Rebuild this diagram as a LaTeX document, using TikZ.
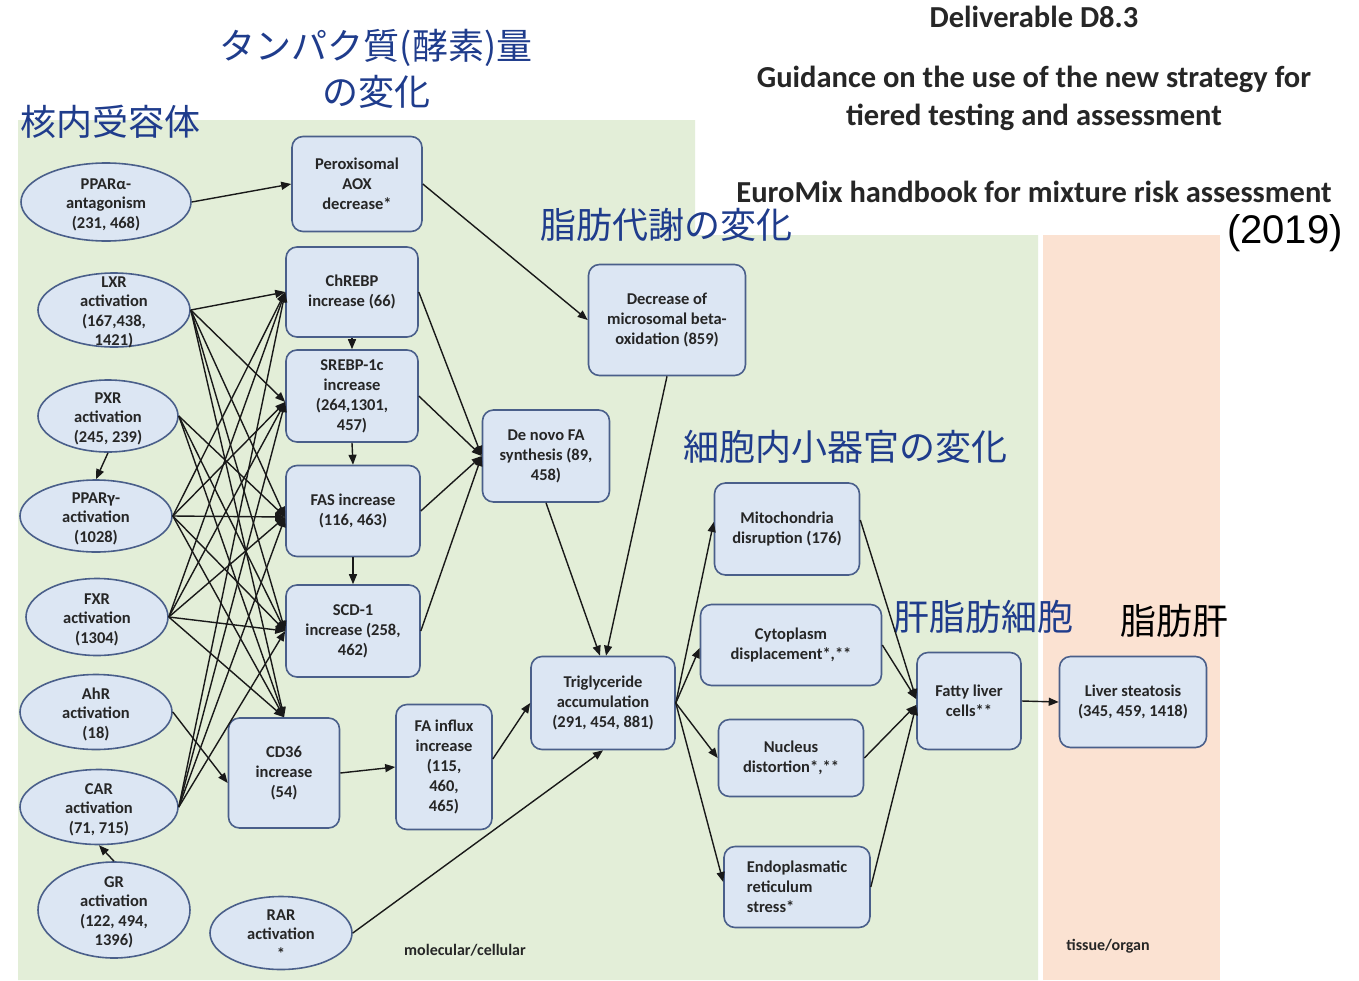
\documentclass[tikz,border=0pt]{standalone}
\usepackage{fontspec}
\setmainfont{Carlito}
\newfontfamily\jpfont{Noto Sans CJK JP}
\newfontfamily\arialfont{Liberation Sans}
\usetikzlibrary{shapes.geometric,arrows.meta}
\definecolor{bggreen}{HTML}{E3EED8}
\definecolor{bgorange}{HTML}{FBE2D2}
\definecolor{boxfill}{HTML}{DCE6F3}
\definecolor{boxline}{HTML}{4A5F8A}
\definecolor{jpblue}{HTML}{1F3C8C}
\newcommand{\ellt}[1]{\smash{\raisebox{-7pt}{\begin{tabular}{@{}c@{}}#1\end{tabular}}}}
\begin{document}
\begin{tikzpicture}[x=1pt,y=-1pt,
  box/.style={draw=boxline, fill=boxfill, line width=1.6pt, rounded corners=11pt, align=center, inner sep=3pt, font=\bfseries\fontsize{16.5}{20}\selectfont, text=black!85},
  ell/.style={ellipse, draw=boxline, fill=boxfill, line width=1.6pt, inner sep=0pt, font=\bfseries\fontsize{16.5}{19.5}\selectfont, text=black!85},
  arr/.style={-{Triangle[length=10pt,width=8pt]}, line width=1.4pt, draw=black!90},
  jp/.style={font=\jpfont\fontsize{36}{46}\selectfont, text=jpblue, inner sep=0pt},
  ttl/.style={font=\bfseries\fontsize{30.5}{38}\selectfont, text=black!85, align=center, inner sep=0pt},
  lay/.style={font=\bfseries\fontsize{16}{16}\selectfont, text=black!85}]
\useasboundingbox (0,0) rectangle (1359,980);
\fill[white] (0,0) rectangle (1359,980);
% backgrounds
\fill[bggreen] (18,120) -- (695,120) -- (695,235) -- (1038,235) -- (1038,980) -- (18,980) -- cycle;
\fill[bgorange] (1043,235) rectangle (1220,980);

% Japanese labels
\node[jp, anchor=west] (jp1) at (20,122) {核内受容体};
\node[jp, align=center] (jp2) at (376,69) {タンパク質(酵素)量\\の変化};
\node[jp, anchor=west] (jp3) at (540,225) {脂肪代謝の変化};
\node[jp, anchor=west] (jp4) at (683,447) {細胞内小器官の変化};
\node[jp, anchor=west] (jp5) at (893,617) {肝脂肪細胞};
\node[jp, anchor=west, text=black] (jp6) at (1120,621) {脂肪肝};

% title
\node[ttl] (t1) at (1034,17) {Deliverable D8.3};
\node[ttl] (t2) at (1034,98) {Guidance on the use of the new strategy for\\tiered testing and assessment};
\node[ttl] (t3) at (1034,192) {EuroMix handbook for mixture risk assessment};
\node[font=\arialfont\fontsize{40}{40}\selectfont, anchor=east, inner sep=0pt] (t4) at (1343,233) {(2019)};

% ellipses
\node[ell, minimum width=170, minimum height=78] (ppara) at (106,202) {\ellt{PPARα-\\antagonism\\(231, 468)}};
\node[ell, minimum width=152, minimum height=74] (lxr) at (114,310) {\ellt{LXR\\activation\\(167,438,\\1421)}};
\node[ell, minimum width=140, minimum height=72] (pxr) at (108,416) {\ellt{PXR\\activation\\(245, 239)}};
\node[ell, minimum width=152, minimum height=72] (pparg) at (96,516) {\ellt{PPARγ-\\activation\\(1028)}};
\node[ell, minimum width=142, minimum height=77] (fxr) at (97,617) {\ellt{FXR\\activation\\(1304)}};
\node[ell, minimum width=152, minimum height=75] (ahr) at (96,712) {\ellt{AhR\\activation\\(18)}};
\node[ell, minimum width=158, minimum height=75] (car) at (99,807) {\ellt{CAR\\activation\\(71, 715)}};
\node[ell, minimum width=152, minimum height=96] (gr) at (114,910) {\ellt{GR\\activation\\(122, 494,\\1396)}};
\node[ell, minimum width=142, minimum height=73] (rar) at (281,933) {\ellt{RAR\\activation\\{}*}};

% boxes
\node[box, minimum width=130, minimum height=95] (perox) at (357,184) {Peroxisomal\\AOX\\decrease*};
\node[box, minimum width=132, minimum height=90] (chrebp) at (352,292) {ChREBP\\increase (66)};
\node[box, minimum width=132, minimum height=92] (srebp) at (352,396) {SREBP-1c\\increase\\(264,1301,\\457)};
\node[box, minimum width=134, minimum height=91] (fas) at (353,511) {FAS increase\\(116, 463)};
\node[box, minimum width=134, minimum height=92] (scd) at (353,631) {SCD-1\\increase (258,\\462)};
\node[box, minimum width=111, minimum height=110] (cd36) at (284,773) {CD36\\increase\\(54)};
\node[box, minimum width=96, minimum height=125] (fa) at (444,767) {FA influx\\increase\\(115,\\460,\\465)};
\node[box, minimum width=127, minimum height=92] (denovo) at (546,456) {De novo FA\\synthesis (89,\\458)};
\node[box, minimum width=157, minimum height=111] (decr) at (667,320) {Decrease of\\microsomal beta-\\oxidation (859)};
\node[box, minimum width=144, minimum height=93] (trig) at (603,703) {Triglyceride\\accumulation\\(291, 454, 881)};
\node[box, minimum width=145, minimum height=92] (mito) at (787,529) {Mitochondria\\disruption (176)};
\node[box, minimum width=181, minimum height=81] (cyto) at (791,645) {Cytoplasm\\displacement*,**};
\node[box, minimum width=145, minimum height=77] (nuc) at (791,758) {Nucleus\\distortion*,**};
\node[box, minimum width=146, minimum height=81, align=left] (er) at (797,887) {Endoplasmatic\\reticulum\\stress*};
\node[box, minimum width=104, minimum height=97] (fatty) at (969,701) {Fatty liver\\cells**};
\node[box, minimum width=147, minimum height=91] (liver) at (1133,702) {Liver steatosis\\(345, 459, 1418)};

% layer labels
\node[lay] (mol) at (465,950) {molecular/cellular};
\node[lay] (tis) at (1108,946) {tissue/organ};

% entry points
\coordinate (inCh) at (chrebp.west);
\coordinate (inSr) at ([yshift=-6pt]srebp.west);
\coordinate (inFa) at ([yshift=-6pt]fas.west);
\coordinate (inSc) at (scd.west);
\coordinate (inCd) at (cd36.north);

% crossing edges
\foreach \s/\t in {lxr/inCh, lxr/inSr, lxr/inFa, lxr/inSc, lxr/inCd,
                   pxr/inFa, pxr/inSc, pxr/inCd,
                   pparg/inCh, pparg/inSr, pparg/inFa, pparg/inSc, pparg/inCd,
                   fxr/inCh, fxr/inSr, fxr/inFa, fxr/inSc, fxr/inCd,
                   car/inCh, car/inSr, car/inFa, car/inSc}
  \draw[arr] (\s.east) -- (\t);

\draw[arr] (ppara.east) -- (perox.west);
\draw[arr] (pxr.south) -- (pparg.north);
\draw[arr] (gr.north) -- (car.south);
\draw[arr] (ahr.east) -- ([yshift=-10pt]cd36.west);
\draw[arr] (chrebp.south) -- (srebp.north);
\draw[arr] (srebp.south) -- (fas.north);
\draw[arr] (fas.south) -- (scd.north);
\draw[arr] (perox.east) -- (decr.west);
\foreach \s in {chrebp, srebp, fas, scd}
  \draw[arr] (\s.east) -- (denovo.west);
\draw[arr] (cd36.east) -- (fa.west);
\draw[arr] ([yshift=8pt]fa.east) -- (trig.west);
\draw[arr] (denovo.south) -- ([xshift=-3pt]trig.north);
\draw[arr] (decr.south) -- ([xshift=3pt]trig.north);
\draw[arr] (rar.east) -- (trig.south);
\draw[arr] (trig.east) -- ([yshift=7pt]mito.west);
\draw[arr] (trig.east) -- ([yshift=-3pt]cyto.west);
\draw[arr] (trig.east) -- (nuc.west);
\draw[arr] (trig.east) -- ([yshift=5pt]er.west);
\draw[arr] ([yshift=9pt]mito.east) -- ([yshift=2pt]fatty.west);
\draw[arr] (cyto.east) -- ([yshift=2pt]fatty.west);
\draw[arr] (nuc.east) -- ([yshift=-4pt]fatty.west);
\draw[arr] (er.east) -- ([yshift=-4pt]fatty.west);
\draw[arr] (fatty.east) -- (liver.west);
\end{tikzpicture}
\end{document}
